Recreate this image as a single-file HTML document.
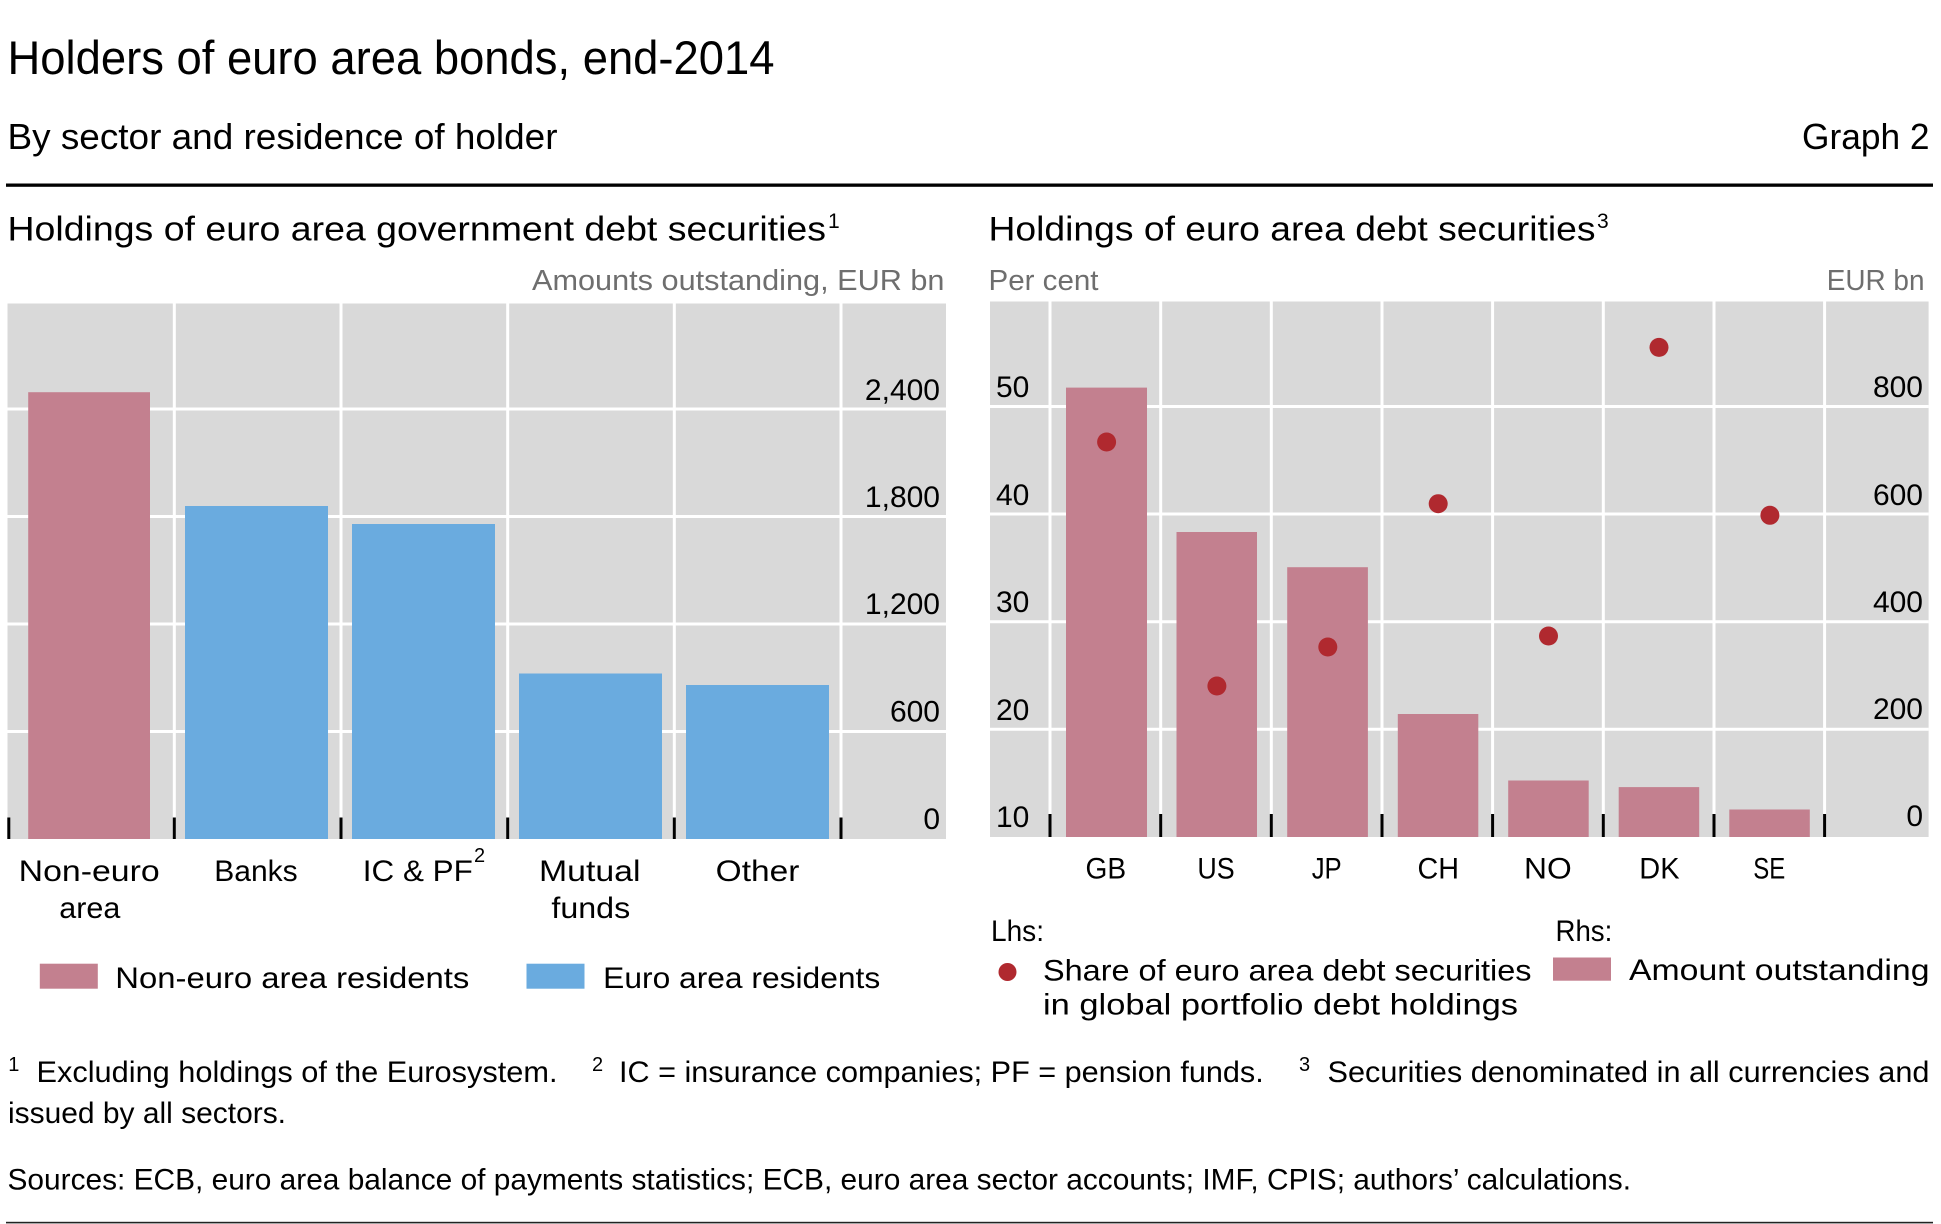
<!DOCTYPE html>
<html>
<head>
<meta charset="utf-8">
<style>
  html, body { margin: 0; padding: 0; background: #ffffff; }
  svg { display: block; }
  text { font-family: "Liberation Sans", Arial, sans-serif; fill: #000; }
  .g { fill: #6e6e6e; }
</style>
</head>
<body>
<svg width="1941" height="1224" viewBox="0 0 1941 1224" xmlns="http://www.w3.org/2000/svg">
  <rect x="0" y="0" width="1941" height="1224" fill="#ffffff"/>

  <!-- Header -->
  <text x="7.5" y="73.8" font-size="47" textLength="767" lengthAdjust="spacingAndGlyphs">Holders of euro area bonds, end-2014</text>
  <text x="7.5" y="149" font-size="36" textLength="550" lengthAdjust="spacingAndGlyphs">By sector and residence of holder</text>
  <text x="1802" y="149" font-size="36" textLength="127.5" lengthAdjust="spacingAndGlyphs">Graph 2</text>
  <rect x="6" y="183.5" width="1927" height="3.3" fill="#000"/>

  <!-- Panel titles -->
  <text x="7.5" y="240.5" font-size="34" textLength="818.5" lengthAdjust="spacingAndGlyphs">Holdings of euro area government debt securities</text>
  <text x="828" y="228" font-size="21">1</text>
  <text x="988.5" y="240.5" font-size="34" textLength="607" lengthAdjust="spacingAndGlyphs">Holdings of euro area debt securities</text>
  <text x="1597" y="228" font-size="21">3</text>

  <text class="g" x="532" y="290" font-size="29" textLength="412.5" lengthAdjust="spacingAndGlyphs">Amounts outstanding, EUR bn</text>
  <text class="g" x="988.5" y="290" font-size="29" textLength="110" lengthAdjust="spacingAndGlyphs">Per cent</text>
  <text class="g" x="1826.7" y="290" font-size="29" textLength="97.8" lengthAdjust="spacingAndGlyphs">EUR bn</text>

  <!-- LEFT CHART -->
  <rect x="7.5" y="303.5" width="938.5" height="535.5" fill="#d9d9d9"/>
  <g stroke="#ffffff" stroke-width="3">
    <line x1="174.3" y1="303.5" x2="174.3" y2="839"/>
    <line x1="341" y1="303.5" x2="341" y2="839"/>
    <line x1="507.7" y1="303.5" x2="507.7" y2="839"/>
    <line x1="674.3" y1="303.5" x2="674.3" y2="839"/>
    <line x1="841" y1="303.5" x2="841" y2="839"/>
    <line x1="7.5" y1="409" x2="946" y2="409"/>
    <line x1="7.5" y1="516.5" x2="946" y2="516.5"/>
    <line x1="7.5" y1="624" x2="946" y2="624"/>
    <line x1="7.5" y1="731.5" x2="946" y2="731.5"/>
  </g>
  <rect x="28.2" y="392.2" width="121.8" height="446.8" fill="#c3808f"/>
  <rect x="185" y="506" width="143" height="333" fill="#6aabdf"/>
  <rect x="352" y="524" width="143" height="315" fill="#6aabdf"/>
  <rect x="519" y="673.5" width="143" height="165.5" fill="#6aabdf"/>
  <rect x="686" y="685" width="143" height="154" fill="#6aabdf"/>
  <g stroke="#000" stroke-width="3">
    <line x1="8.8" y1="817.5" x2="8.8" y2="839"/>
    <line x1="174.3" y1="817.5" x2="174.3" y2="839"/>
    <line x1="341" y1="817.5" x2="341" y2="839"/>
    <line x1="507.7" y1="817.5" x2="507.7" y2="839"/>
    <line x1="674.3" y1="817.5" x2="674.3" y2="839"/>
    <line x1="841" y1="817.5" x2="841" y2="839"/>
  </g>
  <g font-size="30" text-anchor="end">
    <text x="940" y="400">2,400</text>
    <text x="940" y="507">1,800</text>
    <text x="940" y="614">1,200</text>
    <text x="940" y="721.5">600</text>
    <text x="940" y="829">0</text>
  </g>
  <!-- left categories -->
  <g font-size="29.5">
    <text x="18.7" y="880.8" textLength="141" lengthAdjust="spacingAndGlyphs">Non-euro</text>
    <text x="59.3" y="918" textLength="61" lengthAdjust="spacingAndGlyphs">area</text>
    <text x="214.3" y="880.8" textLength="83.4" lengthAdjust="spacingAndGlyphs">Banks</text>
    <text x="362.8" y="880.8" textLength="110" lengthAdjust="spacingAndGlyphs">IC &amp; PF</text>
    <text x="539" y="880.8" textLength="101.5" lengthAdjust="spacingAndGlyphs">Mutual</text>
    <text x="551.4" y="918" textLength="78.8" lengthAdjust="spacingAndGlyphs">funds</text>
    <text x="715.7" y="880.8" textLength="83.7" lengthAdjust="spacingAndGlyphs">Other</text>
  </g>
  <text x="474" y="862" font-size="20">2</text>

  <!-- left legend -->
  <rect x="39.8" y="963.7" width="58" height="25" fill="#c3808f"/>
  <text x="115.3" y="988" font-size="30" textLength="354" lengthAdjust="spacingAndGlyphs">Non-euro area residents</text>
  <rect x="526.5" y="963.7" width="58" height="25" fill="#6aabdf"/>
  <text x="603.2" y="988" font-size="30" textLength="277" lengthAdjust="spacingAndGlyphs">Euro area residents</text>

  <!-- RIGHT CHART -->
  <rect x="990" y="301.5" width="938.6" height="535.5" fill="#d9d9d9"/>
  <g stroke="#ffffff" stroke-width="3">
    <line x1="1050" y1="301.5" x2="1050" y2="837"/>
    <line x1="1160.7" y1="301.5" x2="1160.7" y2="837"/>
    <line x1="1271.3" y1="301.5" x2="1271.3" y2="837"/>
    <line x1="1382" y1="301.5" x2="1382" y2="837"/>
    <line x1="1492.6" y1="301.5" x2="1492.6" y2="837"/>
    <line x1="1603.3" y1="301.5" x2="1603.3" y2="837"/>
    <line x1="1714" y1="301.5" x2="1714" y2="837"/>
    <line x1="1824.6" y1="301.5" x2="1824.6" y2="837"/>
    <line x1="990" y1="406.5" x2="1928.6" y2="406.5"/>
    <line x1="990" y1="514" x2="1928.6" y2="514"/>
    <line x1="990" y1="621.7" x2="1928.6" y2="621.7"/>
    <line x1="990" y1="729.3" x2="1928.6" y2="729.3"/>
  </g>
  <g fill="#c3808f">
    <rect x="1066" y="387.6" width="81" height="449.4"/>
    <rect x="1176.5" y="532" width="80.5" height="305"/>
    <rect x="1287.2" y="567.2" width="80.7" height="269.8"/>
    <rect x="1397.8" y="714" width="80.5" height="123"/>
    <rect x="1508.2" y="780.5" width="80.5" height="56.5"/>
    <rect x="1618.7" y="787.1" width="80.5" height="49.9"/>
    <rect x="1729.3" y="809.5" width="80.5" height="27.5"/>
  </g>
  <g stroke="#000" stroke-width="3">
    <line x1="1050" y1="814" x2="1050" y2="837"/>
    <line x1="1160.7" y1="814" x2="1160.7" y2="837"/>
    <line x1="1271.3" y1="814" x2="1271.3" y2="837"/>
    <line x1="1382" y1="814" x2="1382" y2="837"/>
    <line x1="1492.6" y1="814" x2="1492.6" y2="837"/>
    <line x1="1603.3" y1="814" x2="1603.3" y2="837"/>
    <line x1="1714" y1="814" x2="1714" y2="837"/>
    <line x1="1824.6" y1="814" x2="1824.6" y2="837"/>
  </g>
  <g fill="#b0292f">
    <circle cx="1106.6" cy="442" r="9.5"/>
    <circle cx="1216.9" cy="686" r="9.5"/>
    <circle cx="1327.8" cy="647" r="9.5"/>
    <circle cx="1438.2" cy="503.7" r="9.5"/>
    <circle cx="1548.5" cy="636" r="9.5"/>
    <circle cx="1659" cy="347.4" r="9.5"/>
    <circle cx="1769.9" cy="515.3" r="9.5"/>
  </g>
  <g font-size="30">
    <text x="996" y="397">50</text>
    <text x="996" y="505">40</text>
    <text x="996" y="612">30</text>
    <text x="996" y="720">20</text>
    <text x="996" y="827">10</text>
  </g>
  <g font-size="30" text-anchor="end">
    <text x="1923" y="397">800</text>
    <text x="1923" y="505">600</text>
    <text x="1923" y="612">400</text>
    <text x="1923" y="719">200</text>
    <text x="1923" y="826">0</text>
  </g>
  <g font-size="29.5">
    <text x="1085.5" y="878.7" textLength="40.6" lengthAdjust="spacingAndGlyphs">GB</text>
    <text x="1197.4" y="878.7" textLength="37.3" lengthAdjust="spacingAndGlyphs">US</text>
    <text x="1311.7" y="878.7" textLength="30" lengthAdjust="spacingAndGlyphs">JP</text>
    <text x="1417.5" y="878.7" textLength="41.5" lengthAdjust="spacingAndGlyphs">CH</text>
    <text x="1524" y="878.7" textLength="47.7" lengthAdjust="spacingAndGlyphs">NO</text>
    <text x="1639.3" y="878.7" textLength="40.2" lengthAdjust="spacingAndGlyphs">DK</text>
    <text x="1753.3" y="878.7" textLength="32" lengthAdjust="spacingAndGlyphs">SE</text>
  </g>

  <!-- right legend -->
  <text x="991" y="941" font-size="30" textLength="53" lengthAdjust="spacingAndGlyphs">Lhs:</text>
  <text x="1555.5" y="941" font-size="30" textLength="56.8" lengthAdjust="spacingAndGlyphs">Rhs:</text>
  <circle cx="1007.5" cy="972" r="9" fill="#b0292f"/>
  <text x="1043" y="980.3" font-size="30" textLength="488.5" lengthAdjust="spacingAndGlyphs">Share of euro area debt securities</text>
  <text x="1043" y="1014.3" font-size="30" textLength="475" lengthAdjust="spacingAndGlyphs">in global portfolio debt holdings</text>
  <rect x="1553" y="957.5" width="58" height="23.2" fill="#c3808f"/>
  <text x="1629" y="980" font-size="30" textLength="300.5" lengthAdjust="spacingAndGlyphs">Amount outstanding</text>

  <!-- Footnotes -->
  <g font-size="20">
    <text x="8.3" y="1071">1</text>
    <text x="592" y="1071">2</text>
    <text x="1299" y="1071">3</text>
  </g>
  <g font-size="30">
    <text x="36.5" y="1082" textLength="521" lengthAdjust="spacingAndGlyphs">Excluding holdings of the Eurosystem.</text>
    <text x="619" y="1082" textLength="644.7" lengthAdjust="spacingAndGlyphs">IC = insurance companies; PF = pension funds.</text>
    <text x="1327.5" y="1082" textLength="602" lengthAdjust="spacingAndGlyphs">Securities denominated in all currencies and</text>
    <text x="8" y="1123" textLength="278" lengthAdjust="spacingAndGlyphs">issued by all sectors.</text>
    <text x="7.5" y="1189.7" textLength="1623.5" lengthAdjust="spacingAndGlyphs">Sources: ECB, euro area balance of payments statistics; ECB, euro area sector accounts; IMF, CPIS; authors’ calculations.</text>
  </g>
  <rect x="6" y="1221.8" width="1927" height="1.6" fill="#222"/>
</svg>
</body>
</html>
